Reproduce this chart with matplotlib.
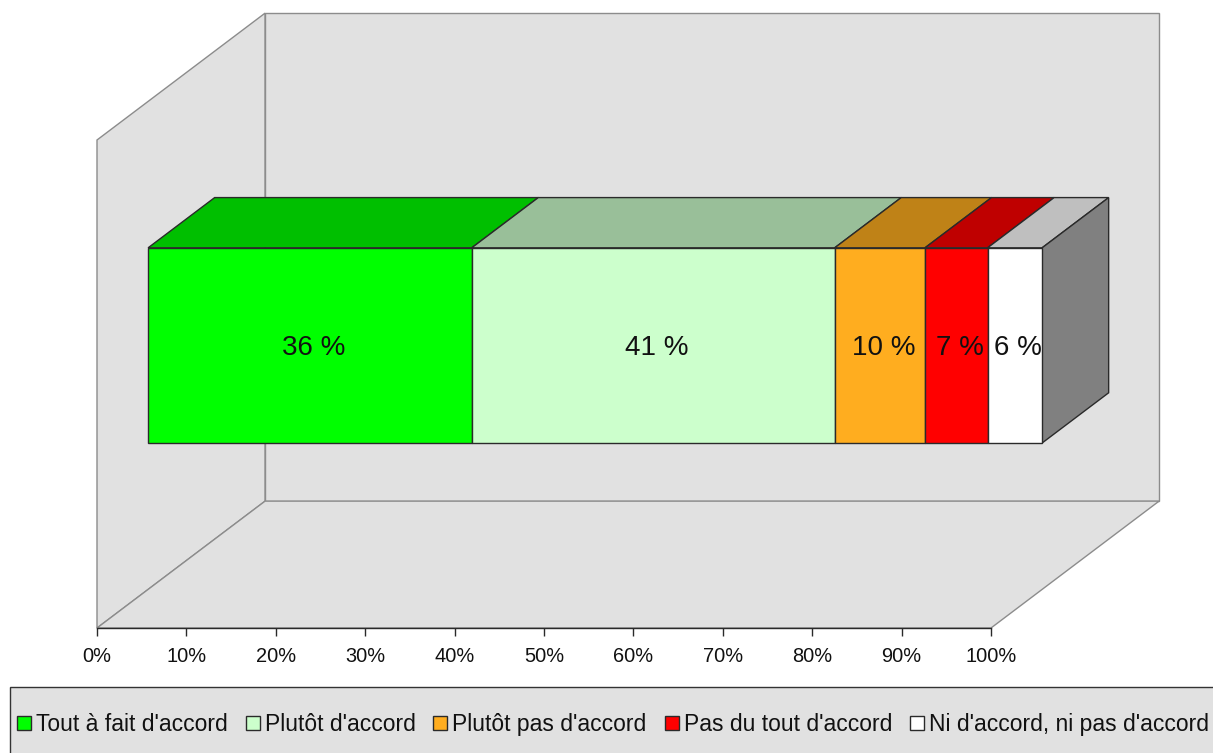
import matplotlib
matplotlib.use("Agg")
import matplotlib.pyplot as plt
from matplotlib.patches import Polygon, Rectangle, Patch

plt.rcParams['font.family'] = ['Liberation Sans', 'DejaVu Sans']

categories = ["Tout à fait d'accord", "Plutôt d'accord", "Plutôt pas d'accord",
              "Pas du tout d'accord", "Ni d'accord, ni pas d'accord"]
values = [36.2, 40.6, 10.1, 7.0, 6.1]
value_labels = ["36 %", "41 %", "10 %", "7 %", "6 %"]
front_colors = ["#00FF00", "#CCFFCC", "#FFAD1F", "#FF0000", "#FFFFFF"]
top_colors = ["#00BF00", "#99BF99", "#BF8217", "#BF0000", "#BFBFBF"]
ticks = list(range(0, 101, 10))

W, H = 1213, 753
# oblique depth of the box, in data units
DEPTH_X = 18.8
DEPTH_Y = 0.26
BAR_FRONT = 0.304
BAR_BACK = 0.70
BAR_H = 0.4
WALL = "#E1E1E1"
WALL_EDGE = "#8C8C8C"
EDGE = "#2A2A2A"


def proj(x, y, d):
    return (x + DEPTH_X * d, y + DEPTH_Y * d)


def face(ax, pts, color, edge, lw=1.0, z=1):
    ax.add_patch(Polygon([proj(*p) for p in pts], closed=True, facecolor=color,
                         edgecolor=edge, linewidth=lw, clip_on=False, zorder=z))


fig = plt.figure(figsize=(W / 100, H / 100), dpi=100, facecolor="white")
ax = fig.add_axes([97 / W, (H - 628) / H, (991 - 97) / W, 488 / H])
ax.set_xlim(0, 100)
ax.set_ylim(-0.5, 0.5)
ax.patch.set_visible(False)

# walls and floor
face(ax, [(0, -0.5, 0), (0, 0.5, 0), (0, 0.5, 1), (0, -0.5, 1)], WALL, WALL_EDGE)
face(ax, [(0, -0.5, 1), (0, 0.5, 1), (100, 0.5, 1), (100, -0.5, 1)], WALL, WALL_EDGE)
face(ax, [(0, -0.5, 0), (100, -0.5, 0), (100, -0.5, 1), (0, -0.5, 1)], WALL, WALL_EDGE)

# stacked bar
lo, hi = -BAR_H / 2, BAR_H / 2
left = 0
for val, lab, fc, tc in zip(values, value_labels, front_colors, top_colors):
    x0, y0 = proj(left, lo, BAR_FRONT)
    ax.barh(y0 + BAR_H / 2, val, height=BAR_H, left=x0, color=fc, edgecolor=EDGE,
            linewidth=1.0, clip_on=False, zorder=3)
    face(ax, [(left, hi, BAR_FRONT), (left + val, hi, BAR_FRONT),
              (left + val, hi, BAR_BACK), (left, hi, BAR_BACK)], tc, EDGE, z=2)
    ax.text(x0 + val / 2 + 0.4, y0 + BAR_H / 2 - 0.005, lab, ha="center", va="center",
            fontsize=20, color="#111111", zorder=5, clip_on=False)
    left += val

# right end of the bar
face(ax, [(left, lo, BAR_FRONT), (left, hi, BAR_FRONT),
          (left, hi, BAR_BACK), (left, lo, BAR_BACK)], "#808080", EDGE, z=2)

for s in ["left", "right", "top"]:
    ax.spines[s].set_visible(False)
ax.spines["bottom"].set_color(EDGE)
ax.spines["bottom"].set_linewidth(1.0)
ax.spines["bottom"].set_zorder(6)
ax.set_yticks([])
ax.set_xticks(ticks)
ax.set_xticklabels([f"{t}%" for t in ticks], fontsize=14.4, color="#111111")
ax.tick_params(axis="x", length=6, width=1, color=EDGE, pad=8)

# legend band runs off the figure on the right and at the bottom
fig.add_artist(Rectangle((10 / W, -0.02), 1.0, (H - 687) / H + 0.02,
                         transform=fig.transFigure, facecolor=WALL,
                         edgecolor="#333333", linewidth=1.0))
handles = [Patch(facecolor=c, edgecolor=EDGE, linewidth=1.0) for c in front_colors]
fig.legend(handles, categories, loc="center left", ncol=5, frameon=False,
           bbox_to_anchor=(17 / W, (H - 724.5) / H), borderaxespad=0, borderpad=0,
           fontsize=16.5, handlelength=0.61, handleheight=0.61, handletextpad=0.22,
           columnspacing=0.78, labelcolor="#111111")

fig.savefig("out.png", dpi=100)
